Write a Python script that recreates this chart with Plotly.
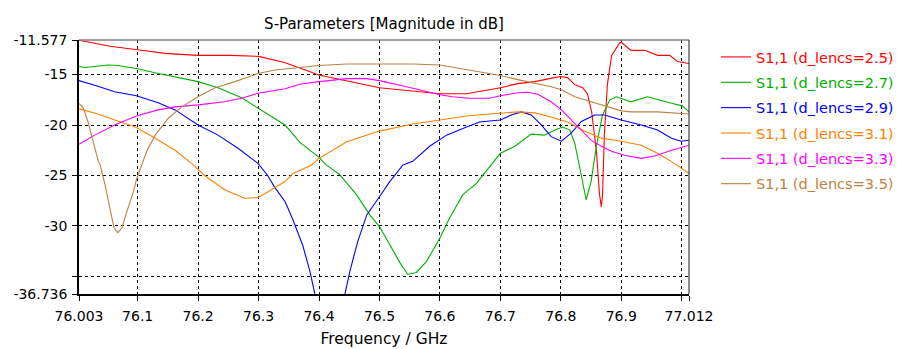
import plotly.graph_objects as go

# ---- data (frequency in GHz, magnitude in dB) ----
f_25 = [76.003, 76.054, 76.1, 76.145, 76.2, 76.253, 76.3, 76.343, 76.4, 76.451, 76.5, 76.55, 76.6, 76.644,
        76.682, 76.7, 76.729, 76.757, 76.781, 76.8, 76.811, 76.823, 76.836, 76.844, 76.851, 76.859, 76.864,
        76.867, 76.869, 76.872, 76.877, 76.884, 76.897, 76.9, 76.916, 76.939, 76.96, 76.98, 76.993, 77.012]
s_25 = [-11.6, -12.2, -12.55, -12.9, -13.1, -13.1, -13.2, -13.8, -15.05, -15.7, -16.3, -16.6, -16.9, -16.9,
        -16.5, -16.3, -15.9, -15.7, -15.4, -15.2, -15.3, -16.0, -16.3, -16.9, -18.7, -22.7, -26.9,
        -28.1, -26.9, -21.0, -16.0, -13.1, -11.9, -11.8, -12.6, -12.6, -13.1, -13.1, -13.7, -13.9]

f_27 = [76.003, 76.013, 76.051, 76.067, 76.098, 76.134, 76.2, 76.233, 76.272, 76.299, 76.327, 76.344, 76.368,
        76.4, 76.412, 76.434, 76.462, 76.484, 76.5, 76.517, 76.534, 76.547, 76.561, 76.578, 76.6, 76.616,
        76.638, 76.66, 76.682, 76.7, 76.724, 76.751, 76.773, 76.79, 76.803, 76.815, 76.823, 76.834, 76.842,
        76.85, 76.859, 76.869, 76.881, 76.892, 76.9, 76.916, 76.943, 76.96, 76.983, 77.001, 77.012]
s_27 = [-14.2, -14.3, -14.05, -14.1, -14.4, -14.9, -15.7, -16.3, -17.3, -18.3, -19.3, -20.0, -21.7,
        -23.2, -23.95, -24.9, -26.9, -28.9, -30.06, -31.9, -33.65, -34.8, -34.6, -33.5, -31.2, -29.2,
        -26.9, -25.8, -24.1, -22.8, -22.1, -20.9, -21.0, -20.5, -20.2, -20.5, -21.8, -24.9, -27.4,
        -25.6, -22.0, -19.0, -17.5, -17.2, -17.35, -17.7, -17.2, -17.5, -17.85, -18.1, -18.7]

f_29 = [76.003, 76.029, 76.062, 76.098, 76.134, 76.162, 76.2, 76.233, 76.266, 76.299, 76.315, 76.327, 76.344,
        76.357, 76.373, 76.385, 76.393, 76.418, 76.443, 76.451, 76.464, 76.479, 76.5, 76.517, 76.539, 76.555,
        76.583, 76.611, 76.644, 76.666, 76.682, 76.7, 76.718, 76.735, 76.751, 76.768, 76.784, 76.801, 76.817,
        76.834, 76.856, 76.872, 76.9, 76.933, 76.96, 76.983, 76.999, 77.012]
s_29 = [-15.6, -16.05, -16.7, -17.1, -17.8, -18.5, -20.0, -21.0, -22.3, -23.8, -25.0, -26.2, -27.6,
        -29.4, -31.9, -34.5, -36.7, -40.0, -36.7, -34.5, -31.55, -28.9, -27.1, -25.6, -23.95, -23.6,
        -22.1, -21.0, -20.2, -19.7, -19.6, -19.5, -19.0, -18.7, -19.0, -20.0, -21.15, -21.6, -20.8,
        -19.65, -19.0, -19.0, -19.5, -20.0, -20.5, -21.3, -21.6, -21.5]

f_31 = [76.003, 76.029, 76.067, 76.098, 76.129, 76.162, 76.189, 76.211, 76.244, 76.277, 76.299, 76.322,
        76.344, 76.357, 76.388, 76.4, 76.446, 76.5, 76.555, 76.6, 76.644, 76.682, 76.7, 76.729, 76.757,
        76.784, 76.811, 76.839, 76.867, 76.9, 76.933, 76.96, 76.988, 77.012]
s_31 = [-18.4, -18.8, -19.6, -20.25, -21.3, -22.5, -23.8, -25.0, -26.4, -27.25, -27.2, -26.4,
        -25.6, -24.8, -23.95, -23.3, -21.65, -20.6, -19.9, -19.5, -19.1, -18.9, -18.85, -18.7, -18.8,
        -19.2, -19.7, -20.6, -21.3, -21.6, -22.0, -22.8, -23.8, -24.8]

f_33 = [76.003, 76.029, 76.062, 76.098, 76.134, 76.162, 76.2, 76.244, 76.272, 76.299, 76.344, 76.368, 76.4,
        76.446, 76.479, 76.5, 76.545, 76.6, 76.621, 76.649, 76.682, 76.7, 76.729, 76.745, 76.762, 76.784,
        76.801, 76.817, 76.834, 76.85, 76.867, 76.884, 76.905, 76.933, 76.955, 76.983, 77.012]
s_33 = [-21.9, -21.0, -20.0, -19.1, -18.5, -18.2, -18.0, -17.7, -17.35, -16.85, -16.4, -15.96, -15.7,
        -15.4, -15.4, -15.6, -16.2, -17.0, -17.2, -17.35, -17.35, -17.1, -16.8, -16.75, -16.95, -17.7,
        -18.5, -19.5, -20.5, -21.5, -22.1, -22.6, -23.0, -23.3, -23.06, -22.5, -22.0]

f_35 = [76.003, 76.010, 76.018, 76.026, 76.035, 76.038, 76.046, 76.054, 76.061, 76.067, 76.074, 76.082,
        76.093, 76.098, 76.107, 76.115, 76.129, 76.151, 76.173, 76.2, 76.228, 76.261, 76.299, 76.327,
        76.344, 76.368, 76.4, 76.446, 76.5, 76.555, 76.6, 76.633, 76.666, 76.682, 76.7, 76.729, 76.762,
        76.784, 76.801, 76.823, 76.85, 76.872, 76.9, 76.916, 76.96, 77.012]
s_35 = [-17.85, -18.3, -19.7, -21.65, -23.6, -23.95, -25.9, -28.2, -30.2, -30.65, -30.2, -28.6,
        -26.6, -25.4, -23.95, -22.6, -21.0, -19.3, -18.2, -17.2, -16.3, -15.7, -14.9, -14.55,
        -14.45, -14.28, -14.1, -13.95, -13.95, -13.95, -14.05, -14.4, -14.7, -14.9, -15.1, -15.5, -15.9,
        -16.2, -16.5, -17.2, -17.7, -18.1, -18.6, -18.7, -18.7, -18.9]

labels = ["S1,1 (d_lencs=2.5)", "S1,1 (d_lencs=2.7)", "S1,1 (d_lencs=2.9)",
          "S1,1 (d_lencs=3.1)", "S1,1 (d_lencs=3.3)", "S1,1 (d_lencs=3.5)"]
x_tickvals = [76.003, 76.1, 76.2, 76.3, 76.4, 76.5, 76.6, 76.7, 76.8, 76.9, 77.0, 77.012]
x_ticktext = ["76.003", "76.1", "76.2", "76.3", "76.4", "76.5", "76.6", "76.7", "76.8", "76.9", "", "77.012"]
y_tickvals = [-36.736, -35, -30, -25, -20, -15, -11.577]
y_ticktext = ["-36.736", "", "-30", "-25", "-20", "-15", "-11.577"]

colors = ["#FF0000", "#00B000", "#0000FF", "#FF8000", "#FF00FF", "#BF8040"]
series = [(f_25, s_25), (f_27, s_27), (f_29, s_29), (f_31, s_31), (f_33, s_33), (f_35, s_35)]

FONT = "DejaVu Sans"

fig = go.Figure()
for i, ((fx, sy), lab, col) in enumerate(zip(series, labels, colors)):
    fig.add_trace(go.Scatter(
        x=fx, y=sy, mode="lines",
        line=dict(color=col, width=1.1),
        name=f'<span style="color:{col}">{lab}</span>',
        legendgroup=f"g{i}",
        hoverinfo="skip",
    ))

axis_common = dict(
    showline=True, linecolor="black", linewidth=1.5,
    showgrid=True, gridcolor="black", gridwidth=1, griddash="3px,3px",
    zeroline=False, ticks="outside", ticklen=5, tickcolor="black",
    tickfont=dict(family=FONT, size=14, color="black"),
    automargin=False,
)

# page body has an 8px margin; figure sized so the plot area lands at x 79..689, y 40..294
fig.update_layout(
    width=893, height=341,
    margin=dict(l=71, r=212, t=32, b=55, autoexpand=False),
    paper_bgcolor="white", plot_bgcolor="white",
    title=dict(text="S-Parameters [Magnitude in dB]", x=0.5, xref="paper",
               y=1 - 16 / 341, yref="container", yanchor="middle", xanchor="center",
               font=dict(family=FONT, size=15, color="black")),
    xaxis=dict(range=[76.003, 77.012], tickmode="array", tickvals=x_tickvals, ticktext=x_ticktext,
               ticklabelstandoff=3,
               title=dict(text="Frequency / GHz", font=dict(family=FONT, size=15.5, color="black"), standoff=11),
               **axis_common),
    yaxis=dict(range=[-36.736, -11.577], tickmode="array", tickvals=y_tickvals, ticktext=y_ticktext,
               ticklabelstandoff=2,
               **axis_common),
    legend=dict(x=708 / 893, y=1 - 33 / 341, xref="container", yref="container",
                xanchor="left", yanchor="top",
                font=dict(family=FONT, size=14.5), bgcolor="rgba(0,0,0,0)",
                tracegroupgap=3.5, traceorder="grouped"),
    showlegend=True,
    shapes=[
        dict(type="line", xref="paper", yref="paper", x0=0, x1=1, y0=1, y1=1,
             line=dict(color="#808080", width=1.5)),
        dict(type="line", xref="paper", yref="paper", x0=1, x1=1, y0=0, y1=1,
             line=dict(color="#404040", width=1.2)),
    ],
)

fig.write_html("out.html", config={"displayModeBar": False})
